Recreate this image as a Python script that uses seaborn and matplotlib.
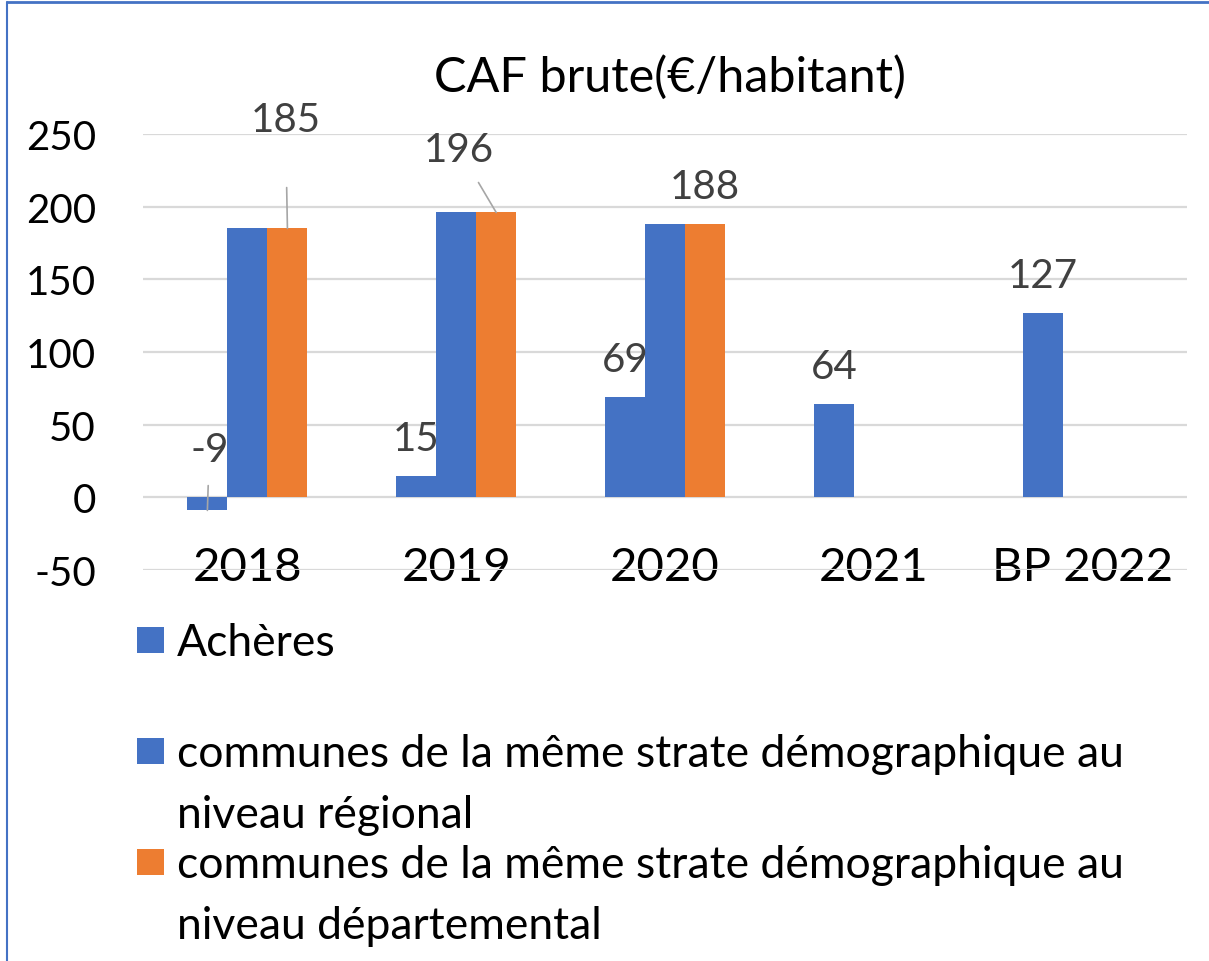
import numpy as np
import pandas as pd
import seaborn as sns
import matplotlib.pyplot as plt
from matplotlib.patches import Rectangle
from matplotlib.lines import Line2D

# data
categories = ['2018', '2019', '2020', '2021', 'BP 2022']
acheres = [-9, 15, 69, 64, 127]
regional = [185, 196, 188, np.nan, np.nan]
departemental = [185, 196, 188, np.nan, np.nan]
series_names = ['Achères',
                'communes de la même strate démographique au\nniveau régional',
                'communes de la même strate démographique au\nniveau départemental']
colors = ['#4472C4', '#4472C4', '#ED7D31']
yticks = [-50, 0, 50, 100, 150, 200, 250]

df = pd.DataFrame({
    'annee': categories * 3,
    'serie': [series_names[0]] * 5 + [series_names[1]] * 5 + [series_names[2]] * 5,
    'valeur': acheres + regional + departemental,
})

sns.set_theme(style='white')
plt.rcParams['font.family'] = ['Lato', 'DejaVu Sans']
plt.rcParams['axes.unicode_minus'] = False

W, H = 1209, 962
fig = plt.figure(figsize=(W / 100, H / 100), dpi=100)
fig.patch.set_facecolor('white')


def fx(x):
    return x / W


def fy(y):
    return 1 - y / H


ax = fig.add_axes([fx(143), fy(571), fx(1187) - fx(143), fy(135) - fy(571)])
sns.barplot(data=df, x='annee', y='valeur', hue='serie', order=categories,
            hue_order=series_names, palette=colors, width=0.575, gap=0,
            saturation=1, errorbar=None, legend=False, linewidth=0,
            edgecolor='none', ax=ax)

ax.set_xlim(-0.5, len(categories) - 0.5)
ax.set_ylim(-50, 250)
ax.set_yticks(yticks)
ax.set_xlabel('')
ax.set_ylabel('')
ax.grid(axis='y', color='#D9D9D9', linewidth=1.6)
ax.set_axisbelow(True)
for s in ax.spines.values():
    s.set_visible(False)
ax.tick_params(axis='y', length=0, pad=34, labelsize=29, labelcolor='black')
ax.tick_params(axis='x', length=0, pad=-17, labelsize=34, labelcolor='black')

ax.set_title('CAF brute(€/habitant)', fontsize=35, color='black', pad=31, x=0.505)

# data labels: which series get labels, and special placements with leader lines
labelled = {0: True, 1: False, 2: True}
special = {(0, 0): (2, 49, 10), (2, 0): (-2, 97, 33), (2, 1): (-37, 51, 9)}
for si, cont in enumerate(ax.containers):
    if not labelled.get(si):
        continue
    for bar in cont:
        h = bar.get_height()
        if np.isnan(h):
            continue
        xc = bar.get_x() + bar.get_width() / 2
        ci = int(round(xc))
        if (si, ci) in special:
            dx, dy, shr = special[(si, ci)]
            ax.annotate(f'{h:.0f}', xy=(xc, h), xytext=(dx, dy),
                        textcoords='offset pixels', ha='center', va='baseline',
                        fontsize=29, color='#404040',
                        arrowprops=dict(arrowstyle='-', color='#A6A6A6', lw=1.2,
                                        shrinkA=shr, shrinkB=0))
        else:
            ax.annotate(f'{h:.0f}', xy=(xc, h), xytext=(0, 26),
                        textcoords='offset pixels', ha='center', va='baseline',
                        fontsize=29, color='#404040')

# legend drawn below the plot, Excel style
rows = [641, 752, 863]
line_gap = 61
for name, col, yc in zip(series_names, colors, rows):
    fig.add_artist(Rectangle((fx(137), fy(yc + 13)), fx(27), 26 / H,
                             transform=fig.transFigure, facecolor=col,
                             edgecolor='none'))
    nlines = name.count('\n') + 1
    fig.text(fx(177), fy(yc + 15 + line_gap * (nlines - 1)), name, fontsize=32,
             color='black', ha='left', va='baseline', linespacing=1.62)

# chart frame (left and top edges visible)
fig.add_artist(Line2D([fx(7), fx(7)], [0, fy(3)], color='#4472C4', lw=1.5,
                      transform=fig.transFigure))
fig.add_artist(Line2D([fx(7), 1], [fy(3), fy(3)], color='#4472C4', lw=2,
                      transform=fig.transFigure))

fig.savefig('out.png', dpi=100)
